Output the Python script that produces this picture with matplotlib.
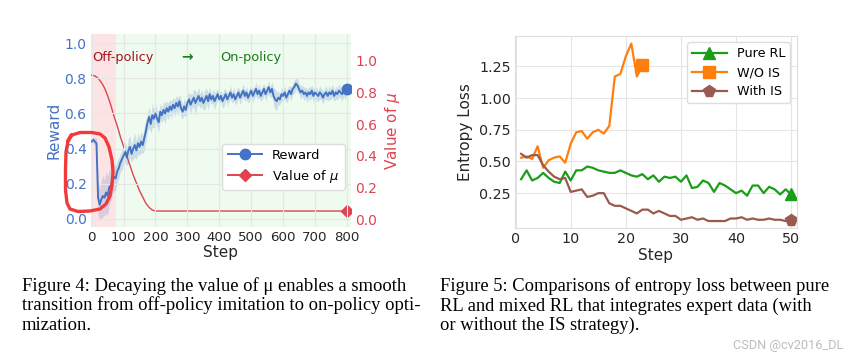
import numpy as np
import matplotlib
matplotlib.use('Agg')
import matplotlib.pyplot as plt
from matplotlib.lines import Line2D

# ---- Figure 4: reward and mu over training steps ----
steps = np.arange(0, 805, 5)
reward = [
    0.44, 0.45, 0.44, 0.43, 0.12, 0.08, 0.11, 0.13, 0.12, 0.15, 0.13, 0.18, 0.19, 0.22, 0.24, 0.23, 0.27, 0.29, 0.32, 0.34,
    0.36, 0.38, 0.35, 0.39, 0.41, 0.37, 0.40, 0.42, 0.39, 0.43, 0.41, 0.44, 0.42, 0.46, 0.50, 0.55, 0.58, 0.54, 0.59, 0.57,
    0.60, 0.57, 0.55, 0.61, 0.59, 0.62, 0.60, 0.63, 0.61, 0.64, 0.62, 0.65, 0.63, 0.66, 0.64, 0.67, 0.63, 0.61, 0.64, 0.62,
    0.66, 0.68, 0.65, 0.67, 0.69, 0.66, 0.68, 0.70, 0.67, 0.69, 0.66, 0.68, 0.70, 0.67, 0.71, 0.68, 0.70, 0.67, 0.69, 0.71,
    0.68, 0.70, 0.67, 0.69, 0.71, 0.68, 0.70, 0.72, 0.69, 0.71, 0.68, 0.70, 0.72, 0.69, 0.71, 0.73, 0.70, 0.72, 0.69, 0.71,
    0.73, 0.70, 0.72, 0.74, 0.71, 0.73, 0.70, 0.72, 0.74, 0.71, 0.73, 0.75, 0.72, 0.74, 0.70, 0.68, 0.67, 0.69, 0.68, 0.71,
    0.70, 0.72, 0.69, 0.71, 0.73, 0.71, 0.74, 0.75, 0.77, 0.76, 0.74, 0.72, 0.73, 0.71, 0.72, 0.70, 0.72, 0.71, 0.73, 0.70,
    0.72, 0.71, 0.70, 0.72, 0.71, 0.69, 0.71, 0.72, 0.70, 0.72, 0.71, 0.73, 0.70, 0.72, 0.71, 0.73, 0.72, 0.71, 0.73, 0.72,
    0.74,
]
reward_std = [
    0.02, 0.02, 0.02, 0.03, 0.10, 0.09, 0.11, 0.12, 0.10, 0.12, 0.11, 0.10, 0.09, 0.08, 0.08, 0.07, 0.06, 0.06, 0.05, 0.06,
    0.05, 0.06, 0.05, 0.07, 0.06, 0.05, 0.06, 0.07, 0.05, 0.06, 0.05, 0.06, 0.05, 0.07, 0.06, 0.05, 0.06, 0.05, 0.07, 0.05,
    0.06, 0.05, 0.06, 0.05, 0.04, 0.05, 0.06, 0.04, 0.05, 0.04, 0.05, 0.04, 0.05, 0.04, 0.05, 0.04, 0.05, 0.04, 0.05, 0.04,
    0.05, 0.04, 0.06, 0.04, 0.05, 0.07, 0.04, 0.05, 0.04, 0.05, 0.04, 0.06, 0.04, 0.05, 0.04, 0.03, 0.04, 0.05, 0.04, 0.03,
    0.04, 0.03, 0.04, 0.05, 0.03, 0.04, 0.03, 0.04, 0.03, 0.04, 0.03, 0.04, 0.03, 0.04, 0.03, 0.04, 0.03, 0.04, 0.03, 0.04,
    0.03, 0.04, 0.03, 0.04, 0.03, 0.04, 0.03, 0.04, 0.03, 0.04, 0.03, 0.04, 0.03, 0.04, 0.05, 0.06, 0.05, 0.04, 0.03, 0.04,
    0.03, 0.04, 0.03, 0.04, 0.03, 0.04, 0.03, 0.04, 0.03, 0.04, 0.03, 0.04, 0.03, 0.04, 0.03, 0.04, 0.03, 0.04, 0.03, 0.04,
    0.03, 0.04, 0.03, 0.04, 0.03, 0.04, 0.03, 0.04, 0.03, 0.04, 0.03, 0.04, 0.03, 0.04, 0.03, 0.04, 0.03, 0.04, 0.03, 0.04,
    0.03,
]
mu_steps = [0, 10, 20, 30, 40, 50, 60, 70, 80, 90, 100, 110, 120, 130, 140, 150, 160, 170, 180, 190, 200, 800]
mu = [0.91, 0.905, 0.89, 0.865, 0.83, 0.78, 0.72, 0.65, 0.59, 0.52, 0.46, 0.40, 0.34, 0.28, 0.23, 0.18,
      0.14, 0.10, 0.075, 0.058, 0.052, 0.052]
off_policy_end = 75

# ---- Figure 5: entropy loss ----
pure_rl = [0.36, 0.43, 0.35, 0.37, 0.41, 0.37, 0.34, 0.33, 0.42, 0.35, 0.43, 0.43, 0.46, 0.45, 0.43, 0.42, 0.41,
           0.41, 0.43, 0.41, 0.39, 0.38, 0.40, 0.36, 0.39, 0.34, 0.38, 0.37, 0.38, 0.34, 0.39, 0.29, 0.30, 0.35,
           0.33, 0.26, 0.33, 0.31, 0.28, 0.25, 0.27, 0.23, 0.31, 0.31, 0.25, 0.30, 0.28, 0.24, 0.28, 0.24]
wo_is = [0.53, 0.54, 0.52, 0.62, 0.45, 0.51, 0.53, 0.54, 0.49, 0.64, 0.73, 0.74, 0.68, 0.73, 0.75, 0.72, 0.78,
         1.17, 1.19, 1.33, 1.43, 1.17, 1.26]
with_is = [0.56, 0.53, 0.55, 0.55, 0.47, 0.42, 0.38, 0.36, 0.37, 0.26, 0.27, 0.28, 0.22, 0.23, 0.25, 0.25, 0.17,
           0.15, 0.15, 0.13, 0.11, 0.09, 0.12, 0.12, 0.09, 0.11, 0.09, 0.07, 0.07, 0.04, 0.05, 0.06, 0.04, 0.05,
           0.03, 0.03, 0.03, 0.03, 0.05, 0.05, 0.06, 0.04, 0.05, 0.04, 0.04, 0.05, 0.04, 0.04, 0.03, 0.04]

BLUE = '#4472C4'
RED = '#E0434F'
GREEN = '#1a9e1a'
ORANGE = '#ff7f0e'
BROWN = '#9a5a4f'
TXT = '#262626'

plt.rcParams['font.family'] = ['DejaVu Sans']
plt.rcParams['axes.edgecolor'] = '#dddddd'
plt.rcParams['axes.linewidth'] = 0.8
plt.rcParams['grid.color'] = '#e6e6e6'
plt.rcParams['grid.linewidth'] = 0.8

fig = plt.figure(figsize=(8.52, 3.61), dpi=100)

# left chart
ax = fig.add_axes([0.1065, 0.372, 0.3055, 0.534])
ax2 = ax.twinx()
ax.set_zorder(ax2.get_zorder() + 1)
ax.patch.set_visible(False)

ax2.axvspan(-10, off_policy_end, color='#fde4e4', lw=0)
ax2.axvspan(off_policy_end, 830, color='#effbef', lw=0)

ax.grid(True)
ax2.grid(False)
lo = np.array(reward) - np.array(reward_std)
hi = np.array(reward) + np.array(reward_std)
ax.fill_between(steps, lo, hi, color=BLUE, alpha=0.2, lw=0)
ax.plot(steps, reward, color=BLUE, lw=1.4, marker='o', ms=7.5, markevery=[len(reward) - 1], label='Reward')
ax2.plot(mu_steps, mu, color=RED, lw=1.0, marker='D', ms=6.5, markevery=[len(mu) - 1])
ax.plot([], [], color=RED, lw=1.4, marker='D', ms=6.5, label='Value of $\\mu$')

ax.set_xlim(-3, 813)
ax.set_ylim(-0.045, 1.053)
ax2.set_ylim(-0.047, 1.17)
ax.set_xticks(range(0, 801, 100))
ax.set_yticks([0.0, 0.2, 0.4, 0.6, 0.8, 1.0])
ax2.set_yticks([0.0, 0.2, 0.4, 0.6, 0.8, 1.0])
ax.tick_params(axis='x', length=0, pad=3, labelsize=9.6, labelcolor=TXT)
ax.tick_params(axis='y', length=0, pad=3, labelsize=10, labelcolor=BLUE)
ax2.tick_params(axis='y', length=0, pad=3, labelsize=10, labelcolor=RED)
ax.set_xlabel('Step', fontsize=11, color=TXT, labelpad=1)
ax.set_ylabel('Reward', fontsize=11, color=BLUE, labelpad=2)
ax2.set_ylabel('Value of $\\mu$', fontsize=11, color=RED, labelpad=4)
for a in (ax, ax2):
    for s in a.spines.values():
        s.set_visible(False)

ax.text(3, 0.92, 'Off-policy', color='#a3141e', fontsize=9.3, va='center', ha='left')
ax.text(300, 0.92, '\u2192', color='#1b7a1b', fontsize=10, va='center', ha='center', fontweight='bold')
ax.text(402, 0.92, 'On-policy', color='#1b7a1b', fontsize=9.3, va='center', ha='left')
ax.legend(loc='lower right', bbox_to_anchor=(0.975, 0.19), borderaxespad=0, fontsize=9.4,
          handlelength=2.6, frameon=True, facecolor='white', edgecolor='#dddddd', framealpha=1.0,
          borderpad=0.4, labelspacing=0.45)

# right chart
bx = fig.add_axes([0.6045, 0.3684, 0.3306, 0.5319])
bx.grid(True)
x_pure = np.arange(1, len(pure_rl) + 1)
x_wo = np.arange(1, len(wo_is) + 1)
x_with = np.arange(1, len(with_is) + 1)
bx.plot(x_pure, pure_rl, color=GREEN, lw=1.6, marker='^', ms=9, markevery=[len(pure_rl) - 1], label='Pure RL')
bx.plot(x_wo, wo_is, color=ORANGE, lw=1.6, marker='s', ms=8, markevery=[len(wo_is) - 1], label='W/O IS')
bx.plot(x_with, with_is, color=BROWN, lw=1.6, marker='p', ms=8.5, markevery=[len(with_is) - 1], label='With IS')
bx.set_xlim(-0.1, 51)
bx.set_ylim(-0.025, 1.49)
bx.set_xticks(range(0, 51, 10))
bx.set_yticks([0.25, 0.5, 0.75, 1.0, 1.25])
bx.set_yticklabels(['0.25', '0.50', '0.75', '1.00', '1.25'])
bx.tick_params(length=0, pad=3, labelsize=10.3, labelcolor=TXT)
bx.set_xlabel('Step', fontsize=11, color=TXT, labelpad=1)
bx.set_ylabel('Entropy Loss', fontsize=11, color=TXT, labelpad=4)
bx.legend(loc='upper right', fontsize=9.2, handlelength=2.7, frameon=True, facecolor='white',
          edgecolor='#dddddd', framealpha=1.0, borderpad=0.4, labelspacing=0.45)

# captions
left_caption = ['Figure 4: Decaying the value of \u03bc enables a smooth',
                'transition from off-policy imitation to on-policy opti-',
                'mization.']
right_caption = ['Figure 5: Comparisons of entropy loss between pure',
                 'RL and mixed RL that integrates expert data (with',
                 'or without the IS strategy).']
serif = ['Liberation Serif', 'DejaVu Serif']
fig.canvas.draw()
renderer = fig.canvas.get_renderer()


def width_of(text_obj):
    return text_obj.get_window_extent(renderer).width


caption_blocks = [(left_caption, 22, 399), (right_caption, 440, 388)]
for lines, x0, max_width in caption_blocks:
    objs = [fig.text(x0 / 852, 1 - (291 + 19.5 * i) / 361, line, family=serif, fontsize=12,
                     color='black', va='baseline', ha='left') for i, line in enumerate(lines)]
    widest = max(width_of(o) for o in objs)
    for o in objs:
        o.set_fontsize(12 * max_width / widest)

wm = fig.text(843 / 852, 1 - 346 / 361, 'CSDN @cv2016_DL', family=['Roboto', 'DejaVu Sans'],
              fontsize=9, color='#bdbdbd', ha='right', va='center')
wm.set_fontsize(9 * 110 / width_of(wm))

# hand-drawn red loop (screen pixels, measured from the top-left)
loop_px = [(68, 141), (72, 135), (80, 132.5), (92, 132.5), (100, 134), (105, 138), (109, 147), (112, 160),
           (113, 172), (112, 185), (110, 196), (106, 204), (100, 209), (90, 211), (78, 211.5), (70, 209),
           (67, 203), (65.5, 190), (65.5, 170), (66, 152), (68, 141), (71, 135)]
lx = [p[0] / 852 for p in loop_px]
ly = [1 - p[1] / 361 for p in loop_px]
fig.add_artist(Line2D(lx, ly, transform=fig.transFigure, color='#f23a3a', lw=2.4,
                      solid_capstyle='round', solid_joinstyle='round', zorder=10))

fig.savefig('out.png', dpi=100)
